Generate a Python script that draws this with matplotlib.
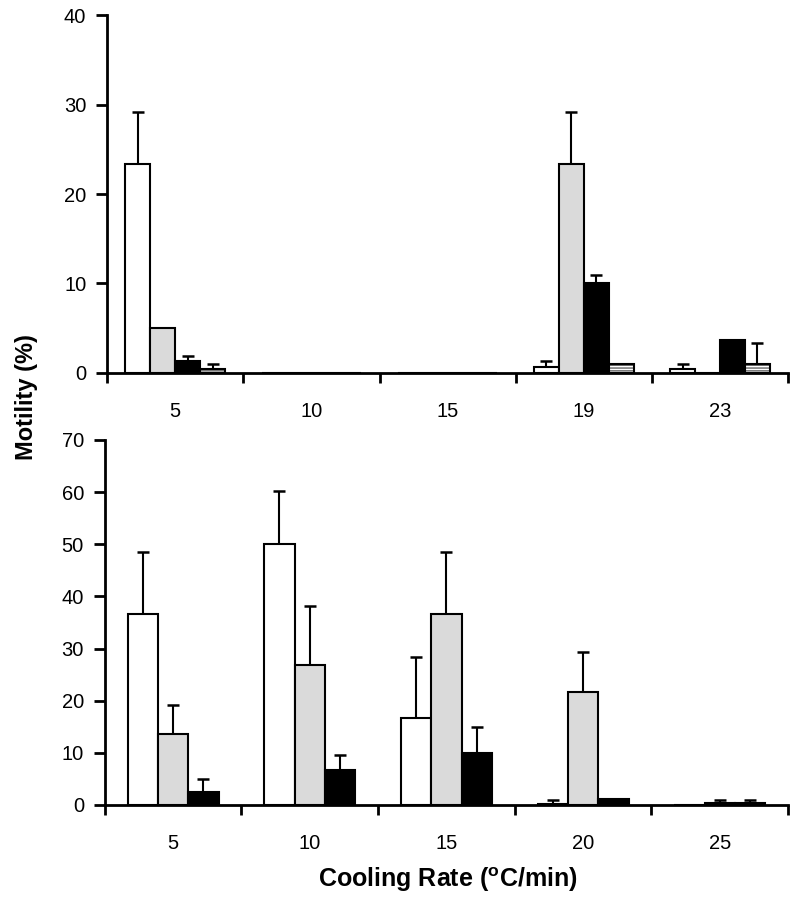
import numpy as np
import matplotlib
matplotlib.use('Agg')
import matplotlib.pyplot as plt

plt.rcParams['font.family'] = ['Liberation Sans', 'DejaVu Sans']
plt.rcParams['hatch.linewidth'] = 1.0

# top panel data (4 series)
top_cats = ['5', '10', '15', '19', '23']
top_white = [23.4, 0, 0, 0.7, 0.4]
top_white_err = [5.8, 0, 0, 0.6, 0.6]
top_gray = [5.0, 0, 0, 23.4, 0]
top_gray_err = [0, 0, 0, 5.8, 0]
top_black = [1.3, 0, 0, 10.1, 3.7]
top_black_err = [0.6, 0, 0, 0.9, 0]
top_hatch = [0.4, 0, 0, 1.0, 1.0]
top_hatch_err = [0.6, 0, 0, 0, 2.4]

# bottom panel data (3 series)
bot_cats = ['5', '10', '15', '20', '25']
bot_white = [36.6, 50.0, 16.6, 0.2, 0]
bot_white_err = [11.9, 10.3, 11.8, 0.8, 0]
bot_gray = [13.6, 26.9, 36.6, 21.7, 0.3]
bot_gray_err = [5.6, 11.3, 11.9, 7.6, 0.7]
bot_black = [2.4, 6.8, 10.0, 1.1, 0.3]
bot_black_err = [2.5, 2.8, 5.0, 0, 0.7]

GRAY = '#dadada'


def draw_series(ax, x, vals, errs, width, face, hatch=None):
    vals = np.array(vals, float)
    errs = np.array(errs, float)
    if hatch:
        ax.bar(x, vals, width, color='white', edgecolor='#666666',
               hatch=hatch, linewidth=0, zorder=2)
        ax.bar(x, vals, width, fill=False, edgecolor='black',
               linewidth=1.5, zorder=3)
    else:
        ax.bar(x, vals, width, color=face, edgecolor='black',
               linewidth=1.5, zorder=2)
    m = errs > 0
    ax.errorbar(x[m], vals[m], yerr=[np.zeros(m.sum()), errs[m]], fmt='none',
                ecolor='black', elinewidth=1.5, capsize=4.5, capthick=1.8,
                zorder=1)


def style_axes(ax, ymax, ystep, cats):
    n = len(cats)
    ax.set_xlim(0, n)
    ax.set_ylim(0, ymax)
    ax.set_yticks(np.arange(0, ymax + 1, ystep))
    ax.set_xticks(np.arange(0, n + 1))
    ax.set_xticklabels([])
    ax.set_xticks(np.arange(n) + 0.5, minor=True)
    ax.set_xticklabels(cats, minor=True)
    ax.tick_params(axis='x', which='major', direction='out', length=7,
                   width=2)
    ax.tick_params(axis='x', which='minor', length=0, pad=21, labelsize=14.5)
    ax.tick_params(axis='y', direction='out', length=8, width=2, pad=7,
                   labelsize=14.5)
    for s in ['top', 'right']:
        ax.spines[s].set_visible(False)
    for s in ['left', 'bottom']:
        ax.spines[s].set_linewidth(2)
    ax.margins(x=0)


fig = plt.figure(figsize=(8, 9.13), dpi=100)

# top panel
ax1 = fig.add_axes([0.134, 0.5915, 0.851, 0.392])
x = np.arange(len(top_cats)) + 0.5
w = 0.183
draw_series(ax1, x - 1.5 * w, top_white, top_white_err, w, 'white')
draw_series(ax1, x - 0.5 * w, top_gray, top_gray_err, w, GRAY)
draw_series(ax1, x + 0.5 * w, top_black, top_black_err, w, 'black')
draw_series(ax1, x + 1.5 * w, top_hatch, top_hatch_err, w, 'white',
            hatch='------')
style_axes(ax1, 40, 10, top_cats)

# bottom panel
ax2 = fig.add_axes([0.131, 0.1183, 0.854, 0.3998])
x = np.arange(len(bot_cats)) + 0.5
w = 0.222
draw_series(ax2, x - w, bot_white, bot_white_err, w, 'white')
draw_series(ax2, x, bot_gray, bot_gray_err, w, GRAY)
draw_series(ax2, x + w, bot_black, bot_black_err, w, 'black')
style_axes(ax2, 70, 10, bot_cats)

fig.text(0.033, 0.565, 'Motility (%)', rotation=90, ha='center',
         va='center', fontsize=17, fontweight='bold')
fig.text(0.56, 0.036, 'Cooling Rate ($\\mathregular{^{o}}$C/min)',
         ha='center', va='center', fontsize=18, fontweight='bold')

fig.savefig('out.png', dpi=100)
